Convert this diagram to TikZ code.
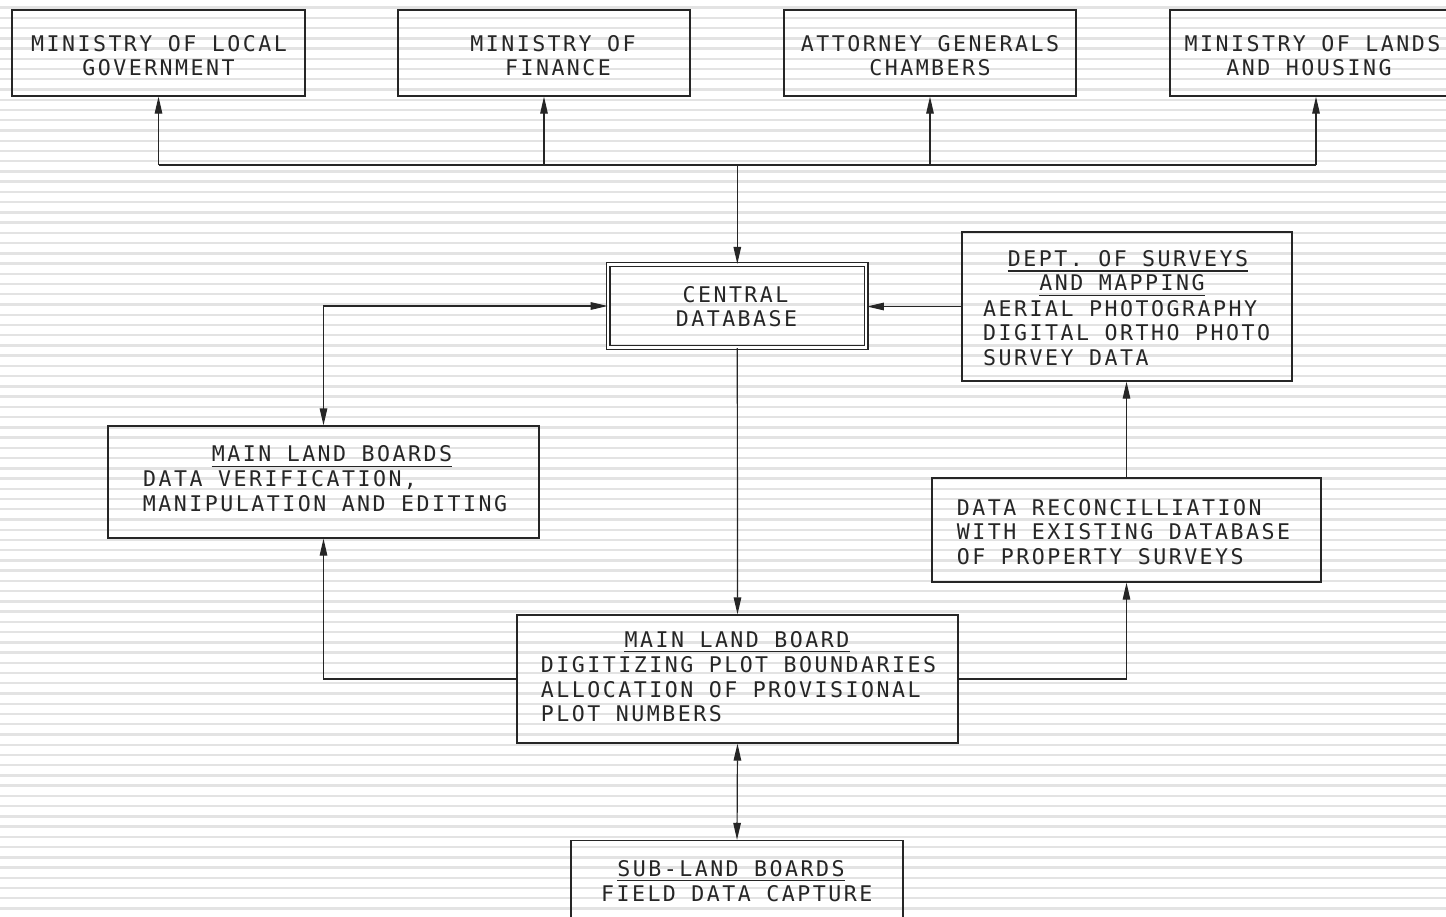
\documentclass[tikz,border=0pt]{standalone}
\usepackage{fontspec}
\newfontfamily\cadfont[LetterSpace=11.5]{DejaVu Sans Mono}
\usetikzlibrary{arrows.meta}
\begin{document}
\begin{tikzpicture}[x=1pt,y=-1pt,
  stripe/.style={draw=black!11,line width=2.4pt},
  box/.style={draw=black!85,line width=1.2pt,inner sep=0pt,rectangle},
  ln/.style={draw=black!85,line width=1.2pt},
  arr/.style={ln,-{Triangle[length=17pt,width=7.5pt]}},
  arrb/.style={ln,{Triangle[length=17pt,width=7.5pt]}-{Triangle[length=17pt,width=7.5pt]}},
  txt/.style={font=\cadfont\fontsize{21.6}{24}\selectfont,inner sep=0pt,text=black!85},
  tc/.style={txt,anchor=base},
  tl/.style={txt,anchor=base west},
  ul/.style={draw=black!85,line width=1.2pt}]
\useasboundingbox (0,0) rectangle (1446,916);
\fill[white] (0,0) rectangle (1446,916);
\foreach \k in {-11,...,78} \draw[stripe] (0,{110+\k*10.237}) -- (1446,{110+\k*10.237});

% top boxes
\node[box,minimum width=293pt,minimum height=86pt] (b1) at (158.5,53) {};
\node[box,minimum width=292pt,minimum height=86pt] (b2) at (544,53) {};
\node[box,minimum width=292pt,minimum height=86pt] (b3) at (930,53) {};
\node[box,minimum width=292pt,minimum height=86pt] (b4) at (1316,53) {};
\node[tc] (t1a) at (159,51) {MINISTRY OF LOCAL};
\node[tc] (t1b) at (158.5,75.5) {GOVERNMENT};
\node[tc] (t2a) at (553,51) {MINISTRY OF};
\node[tc] (t2b) at (558,75.5) {FINANCE};
\node[tc] (t3a) at (930,51) {ATTORNEY GENERALS};
\node[tc] (t3b) at (930,75.5) {CHAMBERS};
\node[tc] (t4a) at (1312.5,51) {MINISTRY OF LANDS};
\node[tc] (t4b) at (1309,75.5) {AND HOUSING};

% central database
\node[box,double,double distance=2.2pt,minimum width=258pt,minimum height=83pt] (cdb) at (737.3,306) {};
\node[tc] (tca) at (735.5,302) {CENTRAL};
\node[tc] (tcb) at (736.5,326.5) {DATABASE};

% dept of surveys
\node[box,minimum width=330pt,minimum height=149pt] (dept) at (1127,306.5) {};
\node[tc] (tda) at (1128,266.5) {DEPT. OF SURVEYS};
\node[tc] (tdb) at (1122,290.7) {AND MAPPING};
\node[tl] (tdc) at (983,316.7) {AERIAL PHOTOGRAPHY};
\node[tl] (tdd) at (983,340.7) {DIGITAL ORTHO PHOTO};
\node[tl] (tde) at (983,365) {SURVEY DATA};
\draw[ul] ([yshift=-4.5pt]tda.base west) -- ([yshift=-4.5pt]tda.base east);
\draw[ul] ([yshift=-4.5pt]tdb.base west) -- ([yshift=-4.5pt]tdb.base east);

% main land boards
\node[box,minimum width=431pt,minimum height=112pt] (mlbs) at (323.5,482) {};
\node[tc] (tma) at (332,461.7) {MAIN LAND BOARDS};
\node[tl] (tmb) at (143,486.7) {DATA VERIFICATION,};
\node[tl] (tmc) at (142.7,511) {MANIPULATION AND EDITING};
\draw[ul] ([yshift=-4.5pt]tma.base west) -- ([yshift=-4.5pt]tma.base east);

% data reconciliation
\node[box,minimum width=389pt,minimum height=104pt] (recon) at (1126.5,530) {};
\node[tl] (tra) at (956.7,515) {DATA RECONCILLIATION};
\node[tl] (trb) at (956.7,539.3) {WITH EXISTING DATABASE};
\node[tl] (trc) at (956.7,564) {OF PROPERTY SURVEYS};

% main land board
\node[box,minimum width=441pt,minimum height=128pt] (mlb) at (737.5,679) {};
\node[tc] (tla) at (737,647.3) {MAIN LAND BOARD};
\node[tl] (tlb) at (540.7,672.7) {DIGITIZING PLOT BOUNDARIES};
\node[tl] (tlc) at (540.7,697.3) {ALLOCATION OF PROVISIONAL};
\node[tl] (tld) at (540.7,721.7) {PLOT NUMBERS};
\draw[ul] ([yshift=-4.5pt]tla.base west) -- ([yshift=-4.5pt]tla.base east);

% sub-land boards
\node[box,minimum width=332pt,minimum height=150pt] (sub) at (737,915.5) {};
\node[tc] (tsa) at (731,876.7) {SUB-LAND BOARDS};
\node[tc] (tsb) at (736.7,901.7) {FIELD DATA CAPTURE};
\draw[ul] ([yshift=-3.5pt]tsa.base west) -- ([yshift=-3.5pt]tsa.base east);

% connectors
\coordinate (bus) at (737.3,165);
\draw[ln] (b1.south |- bus) -- (b4.south |- bus);
\draw[arr] (b1.south |- bus) -- (b1.south);
\draw[arr] (b2.south |- bus) -- (b2.south);
\draw[arr] (b3.south |- bus) -- (b3.south);
\draw[arr] (b4.south |- bus) -- (b4.south);
\draw[arr] (bus) -- (cdb.north);
\draw[arr] (dept.west) -- (dept.west -| cdb.east);
\draw[arrb] (cdb.west) -| (mlbs.north);
\draw[arr] (cdb.south) -- (mlb.north);
\draw[arr] (mlb.west) -| (mlbs.south);
\draw[arr] (mlb.east) -| (recon.south);
\draw[arr] (recon.north) -- (recon.north |- dept.south);
\draw[arrb] (mlb.south) -- (sub.north);
\end{tikzpicture}
\end{document}
